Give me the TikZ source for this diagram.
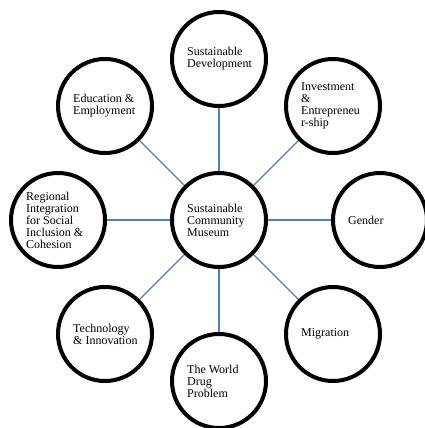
\documentclass[tikz,border=0pt]{standalone}
\usepackage{fontspec}
\setmainfont{Liberation Serif}
\usetikzlibrary{backgrounds}
\begin{document}
\begin{tikzpicture}[x=1pt,y=-1pt,
  ring/.style={circle,draw=black,line width=4pt,minimum size=94pt,inner sep=0pt,fill=white},
  lbl/.style={anchor=west,align=left,inner sep=0pt,font=\fontsize{12}{12}\selectfont,text=black},
  link/.style={draw={rgb,255:red,79;green,129;blue,189},line width=1.4pt}]
\useasboundingbox (0,0) rectangle (425,428);
\node[ring] (c) at (219,220) {};
\node[ring] (n1) at (219,59) {};
\node[ring] (n2) at (333,106) {};
\node[ring] (n3) at (380,220) {};
\node[ring] (n4) at (333,334) {};
\node[ring] (n5) at (219,381) {};
\node[ring] (n6) at (105,334) {};
\node[ring] (n7) at (58,220) {};
\node[ring] (n8) at (105,106) {};
\begin{pgfonlayer}{background}
\foreach \n in {n1,n2,n3,n4,n5,n6,n7,n8}{\draw[link] (c) -- (\n);}
\end{pgfonlayer}
\node[lbl] (tc) at (187,220) {Sustainable\\Community\\Museum};
\node[lbl] (t1) at (187,59) {Sustainable\\Development};
\node[lbl] (t2) at (301,106) {Investment\\\&\\Entrepreneu\\r-ship};
\node[lbl] (t3) at (348,220) {Gender};
\node[lbl] (t4) at (301,334) {Migration};
\node[lbl] (t5) at (187,381) {The World\\Drug\\Problem};
\node[lbl] (t6) at (73,334) {Technology\\\& Innovation};
\node[lbl] (t7) at (26,220) {Regional\\Integration\\for Social\\Inclusion \&\\Cohesion};
\node[lbl] (t8) at (73,106) {Education \&\\Employment};
\end{tikzpicture}
\end{document}
